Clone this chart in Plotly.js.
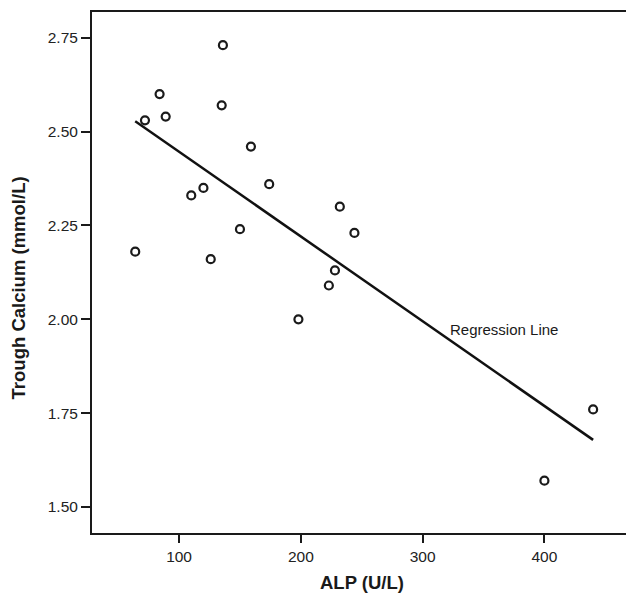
<!DOCTYPE html>
<html>
<head>
<meta charset="utf-8">
<script src="https://cdn.plot.ly/plotly-3.0.1.min.js"></script>
<style>
html,body{margin:0;padding:0;background:#fff;}
#chart{width:626px;height:593px;}
</style>
</head>
<body>
<div id="chart"></div>
<script>
// ALP (U/L) and trough calcium (mmol/L)
var alp = [136, 84, 135, 72, 89, 159, 174, 120, 110, 150, 64, 126, 232, 244, 228, 223, 198, 440, 400];
var calcium = [2.73, 2.60, 2.57, 2.53, 2.54, 2.46, 2.36, 2.35, 2.33, 2.24, 2.18, 2.16, 2.30, 2.23, 2.13, 2.09, 2.00, 1.76, 1.57];
var xTicks = [100, 200, 300, 400];
var yTicks = [1.50, 1.75, 2.00, 2.25, 2.50, 2.75];
var lineLabel = "Regression Line";
var xTitle = "ALP (U/L)";
var yTitle = "Trough Calcium (mmol/L)";

// least-squares fit computed from the data
var n = alp.length, mx = 0, my = 0;
for (var i = 0; i < n; i++) { mx += alp[i]; my += calcium[i]; }
mx /= n; my /= n;
var sxy = 0, sxx = 0;
for (var i = 0; i < n; i++) { sxy += (alp[i]-mx)*(calcium[i]-my); sxx += (alp[i]-mx)*(alp[i]-mx); }
var slope = sxy/sxx, icpt = my - slope*mx;
var xmin = Math.min.apply(null, alp), xmax = Math.max.apply(null, alp);
var fitX = [xmin, xmax];
var fitY = fitX.map(function(v){ return icpt + slope*v; });

var data = [
  {x: alp, y: calcium, mode: 'markers', type: 'scatter',
   marker: {symbol: 'circle-open', size: 8, color: '#1a1a1a', line: {width: 2.2, color: '#1a1a1a'}},
   hoverinfo: 'x+y'},
  {x: fitX, y: fitY, mode: 'lines', type: 'scatter',
   line: {color: '#111', width: 2.5}, hoverinfo: 'skip'}
];

var axisFont = {family: 'Arial, "Liberation Sans", sans-serif', size: 15.5, color: '#222'};
var layout = {
  width: 626, height: 593,
  margin: {l: 92, r: 0, t: 12, b: 60, pad: 0},
  paper_bgcolor: '#fff', plot_bgcolor: '#fff',
  showlegend: false,
  xaxis: {range: [28.5, 467], tickvals: xTicks, ticktext: xTicks.map(String),
          showgrid: false, zeroline: false, showline: true, linecolor: '#1a1a1a', linewidth: 2,
          mirror: true, ticks: 'outside', ticklen: 8, tickwidth: 2, tickcolor: '#1a1a1a',
          tickfont: axisFont},
  yaxis: {range: [1.4307, 2.8185], tickvals: yTicks, ticktext: yTicks.map(function(v){return v.toFixed(2);}),
          showgrid: false, zeroline: false, showline: true, linecolor: '#1a1a1a', linewidth: 2,
          mirror: false, ticks: 'outside', ticklen: 9, tickwidth: 2, tickcolor: '#1a1a1a',
          tickfont: axisFont},
  annotations: [
    {x: 367, y: 1.974, xref: 'x', yref: 'y', text: lineLabel, showarrow: false,
     font: {family: 'Arial, "Liberation Sans", sans-serif', size: 15, color: '#1a1a1a'}},
    {x: 0.505, y: -0.095, xref: 'paper', yref: 'paper', text: '<b>' + xTitle + '</b>', showarrow: false,
     xanchor: 'center', yanchor: 'middle',
     font: {family: 'Arial, "Liberation Sans", sans-serif', size: 18.5, color: '#1a1a1a'}},
    {x: -0.138, y: 0.47, xref: 'paper', yref: 'paper', text: '<b>' + yTitle + '</b>', showarrow: false,
     textangle: -90, xanchor: 'center', yanchor: 'middle',
     font: {family: 'Arial, "Liberation Sans", sans-serif', size: 18.5, color: '#1a1a1a'}}
  ]
};
Plotly.newPlot('chart', data, layout, {displayModeBar: false, staticPlot: true});
</script>
</body>
</html>
